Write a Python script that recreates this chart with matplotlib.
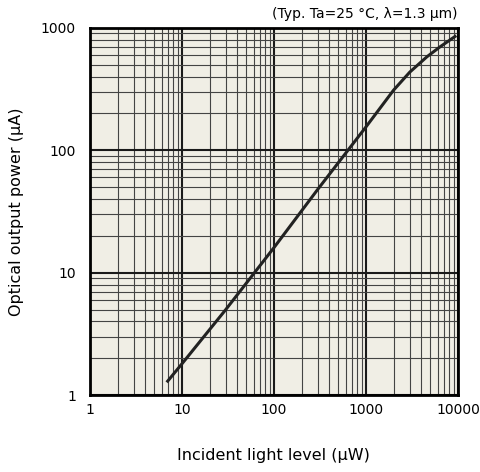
import matplotlib
matplotlib.use("Agg")
import matplotlib.pyplot as plt
from matplotlib.ticker import LogLocator, FixedLocator, NullFormatter

# incident light (uW) vs optical output (uA)
light_uw = [7, 10, 30, 100, 300, 1000, 2000, 3000, 4600, 6400, 9300]
output_ua = [1.3, 1.8, 5.0, 16, 48, 155, 310, 435, 580, 700, 850]

x_ticks = [1, 10, 100, 1000, 10000]
y_ticks = [1, 10, 100, 1000]

fig = plt.figure(figsize=(4.81, 4.72), dpi=100)
ax = fig.add_axes([0.187, 0.163, 0.765, 0.778])
ax.set_facecolor("#f0eee5")

ax.set_xscale("log")
ax.set_yscale("log")
ax.set_xlim(1, 10000)
ax.set_ylim(1, 1000)

ax.xaxis.set_major_locator(FixedLocator(x_ticks))
ax.yaxis.set_major_locator(FixedLocator(y_ticks))
ax.set_xticklabels([str(v) for v in x_ticks])
ax.set_yticklabels([str(v) for v in y_ticks])
for axis in (ax.xaxis, ax.yaxis):
    axis.set_minor_locator(LogLocator(base=10, subs=range(2, 10), numticks=20))
    axis.set_minor_formatter(NullFormatter())

ax.grid(which="major", color="#1a1a1a", linewidth=1.5)
ax.grid(which="minor", color="#444444", linewidth=0.8)
ax.tick_params(which="both", length=0, labelsize=10, pad=6)
ax.tick_params(axis="y", pad=10)
ax.set_axisbelow(True)

ax.plot(light_uw, output_ua, color="#222222", linewidth=2.2)

for s in ax.spines.values():
    s.set_linewidth(2)
    s.set_color("black")

ax.set_xlabel("Incident light level (\u00b5W)", fontsize=11.5, labelpad=22)
ax.set_ylabel("Optical output power (\u00b5A)", fontsize=11.5, labelpad=12)
fig.text(0.952, 0.955, "(Typ. Ta=25 \u00b0C, \u03bb=1.3 \u00b5m)", ha="right",
         va="bottom", fontsize=10)

fig.savefig("out.png", dpi=100, facecolor="white")
